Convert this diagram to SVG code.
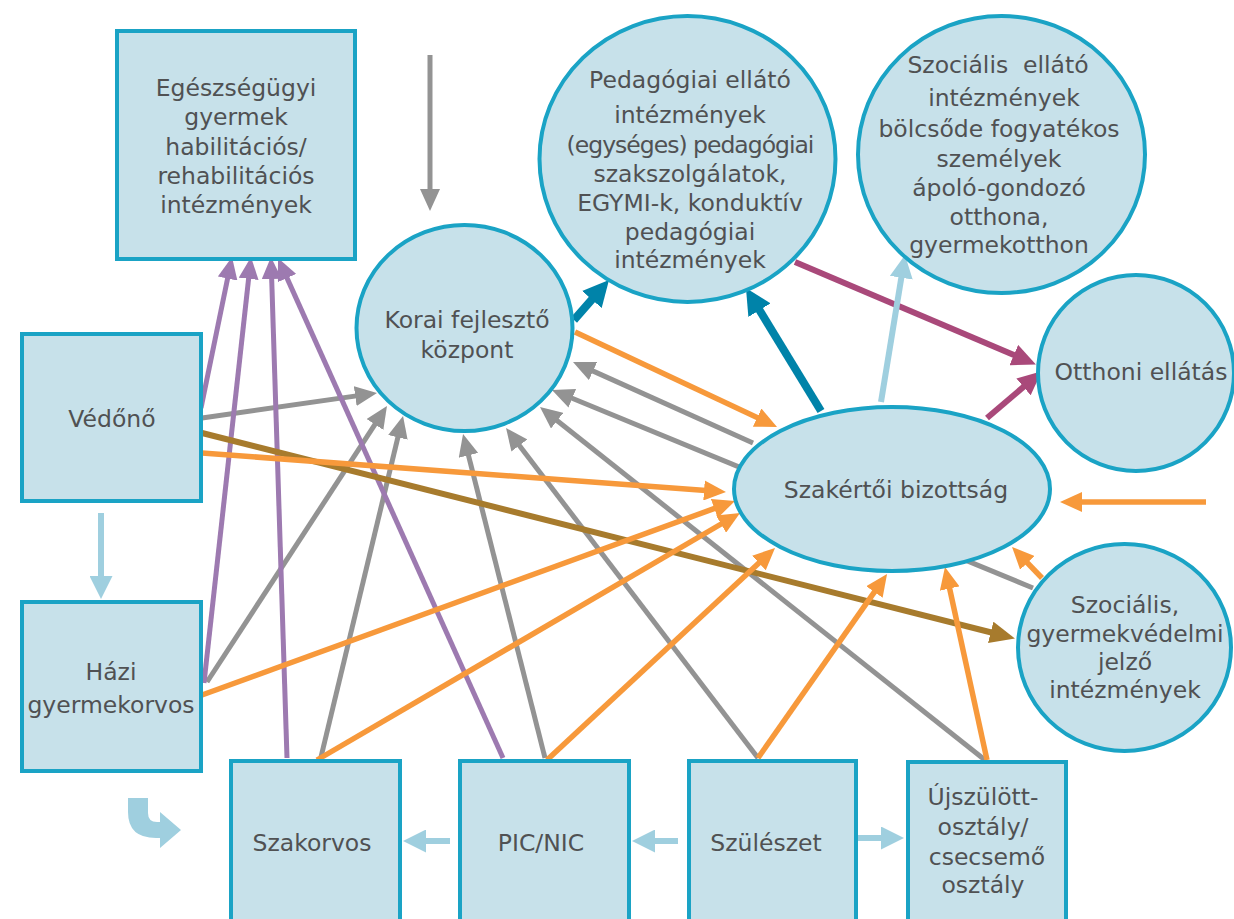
<svg xmlns="http://www.w3.org/2000/svg" width="1234" height="919" viewBox="0 0 1234 919">
<defs>
<style>
.box{fill:#c7e1ea;stroke:#1aa3c5;stroke-width:4}
.t{font-family:"DejaVu Sans","Open Sans",sans-serif;font-size:23.5px;fill:#505153;text-anchor:middle}
.c{fill:none;stroke-linecap:butt}
.g{stroke:#939393;stroke-width:5}
.o{stroke:#f7993b;stroke-width:5.5}
.p{stroke:#9d7ab0;stroke-width:5}
.tl{stroke:#0083a9;stroke-width:8}
.m{stroke:#a9497a;stroke-width:6}
.lb{stroke:#9fcfdf;stroke-width:6}
.br{stroke:#a77b2d;stroke-width:6}
</style>
<marker id="ag" markerUnits="userSpaceOnUse" viewBox="0 0 22 20" markerWidth="22" markerHeight="20" refX="12" refY="10" orient="auto"><path d="M0,0 L22,10 L0,20 Z" fill="#939393"/></marker>
<marker id="ao" markerUnits="userSpaceOnUse" viewBox="0 0 22 20" markerWidth="22" markerHeight="20" refX="12" refY="10" orient="auto"><path d="M0,0 L22,10 L0,20 Z" fill="#f7993b"/></marker>
<marker id="ap" markerUnits="userSpaceOnUse" viewBox="0 0 22 20" markerWidth="22" markerHeight="20" refX="12" refY="10" orient="auto"><path d="M0,0 L22,10 L0,20 Z" fill="#9d7ab0"/></marker>
<marker id="at" markerUnits="userSpaceOnUse" viewBox="0 0 26 26" markerWidth="26" markerHeight="26" refX="14" refY="13" orient="auto"><path d="M0,0 L26,13 L0,26 Z" fill="#0083a9"/></marker>
<marker id="am" markerUnits="userSpaceOnUse" viewBox="0 0 24 22" markerWidth="24" markerHeight="22" refX="13" refY="11" orient="auto"><path d="M0,0 L24,11 L0,22 Z" fill="#a9497a"/></marker>
<marker id="al" markerUnits="userSpaceOnUse" viewBox="0 0 23 23" markerWidth="23" markerHeight="23" refX="13" refY="11.5" orient="auto"><path d="M0,0 L23,11.5 L0,23 Z" fill="#9fcfdf"/></marker>
<marker id="ab" markerUnits="userSpaceOnUse" viewBox="0 0 25 22" markerWidth="25" markerHeight="22" refX="13" refY="11" orient="auto"><path d="M0,0 L25,11 L0,22 Z" fill="#a77b2d"/></marker>
</defs>
<rect width="1234" height="919" fill="#ffffff"/>
<g id="connectors">
<line class="c g" x1="430" y1="55" x2="430" y2="201" marker-end="url(#ag)"/>
<line class="c g" x1="202" y1="418" x2="367.1" y2="394.4" marker-end="url(#ag)"/>
<line class="c g" x1="207" y1="682" x2="381.5" y2="414.4" marker-end="url(#ag)"/>
<line class="c g" x1="321" y1="757" x2="400.7" y2="425.7" marker-end="url(#ag)"/>
<line class="c g" x1="545" y1="758" x2="465.5" y2="443.7" marker-end="url(#ag)"/>
<line class="c g" x1="758" y1="758" x2="512.1" y2="436" marker-end="url(#ag)"/>
<line class="c g" x1="985" y1="760" x2="547.8" y2="413.2" marker-end="url(#ag)"/>
<line class="c g" x1="1033" y1="588" x2="561.2" y2="393.8" marker-end="url(#ag)"/>
<line class="c g" x1="753" y1="443" x2="582.1" y2="366.1" marker-end="url(#ag)"/>
<line class="c p" x1="201" y1="408" x2="230" y2="266.8" marker-end="url(#ap)"/>
<line class="c p" x1="204" y1="683" x2="249.9" y2="266.9" marker-end="url(#ap)"/>
<line class="c p" x1="287" y1="758" x2="271.3" y2="267" marker-end="url(#ap)"/>
<line class="c p" x1="503" y1="758" x2="282.1" y2="267.1" marker-end="url(#ap)"/>
<line class="c br" x1="202" y1="433" x2="1003.3" y2="635.5" marker-end="url(#ab)"/>
<line class="c o" x1="575" y1="332" x2="768" y2="422.7" marker-end="url(#ao)"/>
<line class="c o" x1="202" y1="453" x2="716" y2="491.3" marker-end="url(#ao)"/>
<line class="c o" x1="202" y1="695" x2="725.6" y2="504.4" marker-end="url(#ao)"/>
<line class="c o" x1="317" y1="760" x2="731.4" y2="518" marker-end="url(#ao)"/>
<line class="c o" x1="547" y1="760" x2="767.7" y2="554.8" marker-end="url(#ao)"/>
<line class="c o" x1="758" y1="758" x2="881.3" y2="582.2" marker-end="url(#ao)"/>
<line class="c o" x1="987" y1="760" x2="947.1" y2="576.8" marker-end="url(#ao)"/>
<line class="c o" x1="1206" y1="502" x2="1070" y2="502" marker-end="url(#ao)"/>
<line class="c o" x1="1042" y1="578" x2="1019" y2="554.2" marker-end="url(#ao)"/>
<line class="c tl" x1="574" y1="320" x2="601.1" y2="289" marker-end="url(#at)"/>
<line class="c tl" x1="821" y1="411" x2="752.2" y2="298.2" marker-end="url(#at)"/>
<line class="c m" x1="795" y1="262" x2="1025.8" y2="360.1" marker-end="url(#am)"/>
<line class="c m" x1="987" y1="418" x2="1033.4" y2="378.5" marker-end="url(#am)"/>
<line class="c lb" x1="881" y1="402" x2="903.4" y2="264.9" marker-end="url(#al)"/>
<line class="c lb" x1="101" y1="513" x2="101" y2="589" marker-end="url(#al)"/>
<line class="c lb" x1="450" y1="841" x2="413" y2="841" marker-end="url(#al)"/>
<line class="c lb" x1="678" y1="841" x2="642" y2="841" marker-end="url(#al)"/>
<line class="c lb" x1="852" y1="838" x2="894" y2="838" marker-end="url(#al)"/>
<path d="M128,798 H148 V813 Q148,822 157,822 H160 V812 L181,830 L160,848 V838 H156 Q128,838 128,812 Z" fill="#9fcfdf"/>
</g>
<g id="node-egeszsegugyi">
<rect class="box" x="117" y="31" width="238" height="228"/>
<text class="t"><tspan x="236" y="96">Egészségügyi</tspan><tspan x="236" y="125">gyermek</tspan><tspan x="236" y="155">habilitációs/</tspan><tspan x="236" y="184">rehabilitációs</tspan><tspan x="236" y="213">intézmények</tspan></text>
</g>
<g id="node-vedono">
<rect class="box" x="22" y="334" width="179" height="167"/>
<text class="t" x="112" y="427">Védőnő</text>
</g>
<g id="node-hazi">
<rect class="box" x="22" y="602" width="179" height="169"/>
<text class="t"><tspan x="111" y="680">Házi</tspan><tspan x="111" y="713">gyermekorvos</tspan></text>
</g>
<g id="node-szakorvos">
<rect class="box" x="231" y="761" width="169" height="170"/>
<text class="t" x="312" y="851">Szakorvos</text>
</g>
<g id="node-picnic">
<rect class="box" x="460" y="761" width="169" height="170"/>
<text class="t" x="541" y="851">PIC/NIC</text>
</g>
<g id="node-szuleszet">
<rect class="box" x="689" y="761" width="167" height="170"/>
<text class="t" x="766" y="851">Szülészet</text>
</g>
<g id="node-ujszulott">
<rect class="box" x="908" y="762" width="158" height="170"/>
<text class="t"><tspan x="983" y="805">Újszülött-</tspan><tspan x="983" y="835">osztály/</tspan><tspan x="987" y="865">csecsemő</tspan><tspan x="983" y="893">osztály</tspan></text>
</g>
<g id="node-korai">
<ellipse class="box" cx="464.5" cy="328" rx="108" ry="103"/>
<text class="t"><tspan x="467" y="328">Korai fejlesztő</tspan><tspan x="467" y="358">központ</tspan></text>
</g>
<g id="node-pedagogiai">
<ellipse class="box" cx="687.5" cy="159" rx="148" ry="143"/>
<text class="t"><tspan x="690" y="88">Pedagógiai ellátó</tspan><tspan x="690" y="123">intézmények</tspan><tspan x="690" y="153" letter-spacing="-1">(egységes) pedagógiai</tspan><tspan x="690" y="182">szakszolgálatok,</tspan><tspan x="690" y="211">EGYMI-k, konduktív</tspan><tspan x="690" y="240">pedagógiai</tspan><tspan x="690" y="268">intézmények</tspan></text>
</g>
<g id="node-szocialis-ellato">
<ellipse class="box" cx="1001.5" cy="154.5" rx="143.5" ry="138.5"/>
<text class="t" xml:space="preserve" style="white-space:pre"><tspan x="998" y="73">Szociális  ellátó</tspan><tspan x="1004" y="106">intézmények</tspan><tspan x="999" y="137">bölcsőde fogyatékos</tspan><tspan x="999" y="167">személyek</tspan><tspan x="999" y="196">ápoló-gondozó</tspan><tspan x="999" y="225">otthona,</tspan><tspan x="999" y="253">gyermekotthon</tspan></text>
</g>
<g id="node-otthoni">
<ellipse class="box" cx="1136" cy="373" rx="98" ry="98"/>
<text class="t" x="1141" y="380">Otthoni ellátás</text>
</g>
<g id="node-szakertoi">
<ellipse class="box" cx="892" cy="489" rx="158" ry="82"/>
<text class="t" x="896" y="498">Szakértői bizottság</text>
</g>
<g id="node-szocialis-gyv">
<ellipse class="box" cx="1124.5" cy="647.5" rx="106.5" ry="103.5"/>
<text class="t"><tspan x="1125" y="613">Szociális,</tspan><tspan x="1125" y="642">gyermekvédelmi</tspan><tspan x="1125" y="670">jelző</tspan><tspan x="1125" y="698">intézmények</tspan></text>
</g>
</svg>
